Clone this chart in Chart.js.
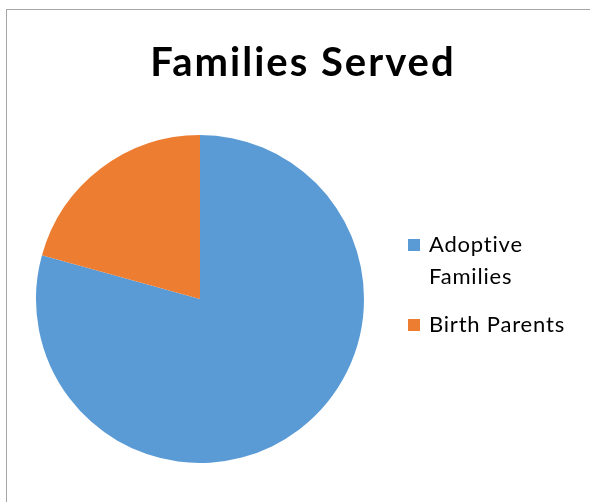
<!DOCTYPE html>
<html>
<head>
<meta charset="utf-8">
<script src="https://cdn.jsdelivr.net/npm/chart.js@4"></script>
<style>
  html, body { margin: 0; padding: 0; background: #fff; }
  #box {
    position: absolute; left: 6px; top: 9px;
    width: 590px; height: 500px;
    border: 1px solid #a6a6a6; border-right: none; border-bottom: none;
  }
  #wrap { position: absolute; left: 0; top: 0; width: 583px; height: 492px; }
</style>
</head>
<body>
<div id="box"><div id="wrap"><canvas id="chart"></canvas></div></div>
<script>
const title = 'Families Served';
const labels = ['Adoptive Families', 'Birth Parents'];
const values = [79.3, 20.7];
const colors = ['#5B9BD5', '#ED7D31'];

// title + wrapping legend, drawn on the canvas after the pie
const textLayer = {
  id: 'textLayer',
  afterDraw(chart) {
    const ctx = chart.ctx;
    const ds = chart.data.datasets[0];
    ctx.save();

    ctx.fillStyle = '#000';
    ctx.font = 'bold 40px Lato';
    ctx.letterSpacing = '2px';
    ctx.textAlign = 'center';
    ctx.textBaseline = 'alphabetic';
    ctx.fillText(title, 296, 66);

    const x = 401, maxW = 150, lineH = 32, box = 12;
    let y = 242;
    ctx.font = '22px Lato';
    ctx.letterSpacing = '0.8px';
    ctx.textAlign = 'left';
    chart.data.labels.forEach((lab, i) => {
      const words = lab.split(' ');
      const lines = [];
      let cur = '';
      words.forEach(w => {
        const t = cur ? cur + ' ' + w : w;
        if (ctx.measureText(t).width > maxW && cur) { lines.push(cur); cur = w; }
        else cur = t;
      });
      lines.push(cur);
      ctx.fillStyle = ds.backgroundColor[i];
      ctx.fillRect(x, y - box - 1, box, box);
      ctx.fillStyle = '#000';
      lines.forEach((l, j) => ctx.fillText(l, x + box + 9, y + j * lineH));
      y += lines.length * lineH + 16;
    });
    ctx.restore();
  }
};

new Chart(document.getElementById('chart').getContext('2d'), {
  type: 'pie',
  data: {
    labels: labels,
    datasets: [{
      data: values,
      backgroundColor: colors,
      borderWidth: 0,
    }]
  },
  options: {
    responsive: true,
    maintainAspectRatio: false,
    animation: false,
    layout: { padding: { left: 29, right: 226, bottom: 39, top: 125 } },
    plugins: {
      legend: { display: false },
      tooltip: { enabled: false },
      title: { display: false }
    }
  },
  plugins: [textLayer]
});
</script>
</body>
</html>
